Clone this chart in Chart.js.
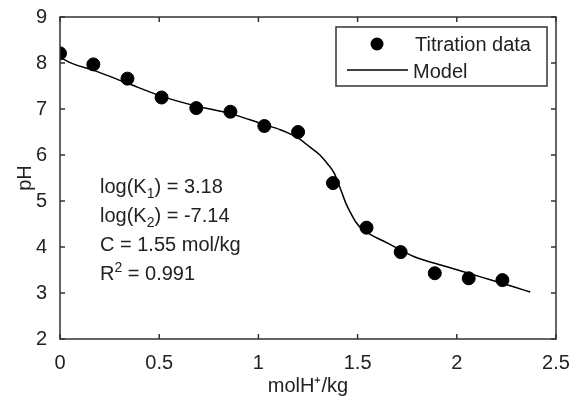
<!DOCTYPE html>
<html>
<head>
<meta charset="utf-8">
<script src="https://cdn.jsdelivr.net/npm/chart.js@4.4.0/dist/chart.umd.min.js"></script>
<style>
  html, body { margin: 0; padding: 0; background: #fff; }
</style>
</head>
<body>
<canvas id="titration" width="570" height="400"></canvas>
<script>
// measured titration points
var titrX  = [0, 0.168, 0.340, 0.512, 0.687, 0.859, 1.03, 1.20, 1.376, 1.545, 1.717, 1.889, 2.06, 2.23];
var titrPH = [8.21, 7.97, 7.66, 7.25, 7.02, 6.94, 6.63, 6.50, 5.39, 4.42, 3.89, 3.43, 3.32, 3.28];

// fitted model curve
var modelX  = [0, 0.04, 0.08, 0.17, 0.34, 0.51, 0.69, 0.86, 1.03, 1.11, 1.16, 1.21, 1.26, 1.31, 1.35, 1.38, 1.40, 1.42, 1.44, 1.465, 1.49, 1.525, 1.57, 1.63, 1.68, 1.78, 1.95, 2.12, 2.29, 2.37];
var modelPH = [8.13, 8.03, 7.96, 7.84, 7.56, 7.28, 7.06, 6.90, 6.66, 6.55, 6.46, 6.34, 6.17, 6.00, 5.80, 5.62, 5.42, 5.19, 4.96, 4.74, 4.55, 4.38, 4.26, 4.13, 4.02, 3.80, 3.57, 3.35, 3.13, 3.02];

var xTicks = [0, 0.5, 1, 1.5, 2, 2.5];
var yTicks = [2, 3, 4, 5, 6, 7, 8, 9];

var fitText = [
  {main: "log(K", sub: "1", rest: ") = 3.18"},
  {main: "log(K", sub: "2", rest: ") = -7.14"},
  {main: "C = 1.55 mol/kg"},
  {main: "R", sup: "2", rest: " = 0.991"}
];

function pts(xs, ys) {
  var out = [];
  for (var i = 0; i < xs.length; i++) out.push({x: xs[i], y: ys[i]});
  return out;
}

var FONT = "'Liberation Sans', Arial, sans-serif";
var INK = "#222";

// box, inner ticks, legend and fit text
var decor = {
  id: "decor",
  afterDraw: function(chart) {
    var ctx = chart.ctx, a = chart.chartArea;
    var xs = chart.scales.x, ys = chart.scales.y;
    ctx.save();
    ctx.strokeStyle = "#333";
    ctx.lineWidth = 1.5;
    ctx.strokeRect(a.left, a.top, a.right - a.left, a.bottom - a.top);
    ctx.beginPath();
    xTicks.forEach(function(v) {
      var px = xs.getPixelForValue(v);
      ctx.moveTo(px, a.bottom); ctx.lineTo(px, a.bottom - 5);
      ctx.moveTo(px, a.top); ctx.lineTo(px, a.top + 5);
    });
    yTicks.forEach(function(v) {
      var py = ys.getPixelForValue(v);
      ctx.moveTo(a.left, py); ctx.lineTo(a.left + 5, py);
      ctx.moveTo(a.right, py); ctx.lineTo(a.right - 5, py);
    });
    ctx.stroke();

    // legend
    var lx = 336, ly = 27, lw = 211, lh = 59;
    ctx.fillStyle = "#fff";
    ctx.fillRect(lx, ly, lw, lh);
    ctx.strokeRect(lx, ly, lw, lh);
    ctx.fillStyle = "#000";
    ctx.beginPath();
    ctx.arc(377, 44, 6.5, 0, Math.PI * 2);
    ctx.fill();
    ctx.strokeStyle = "#000";
    ctx.lineWidth = 1.5;
    ctx.beginPath();
    ctx.moveTo(347, 70); ctx.lineTo(408, 70);
    ctx.stroke();
    ctx.fillStyle = INK;
    ctx.font = "20px " + FONT;
    ctx.textBaseline = "alphabetic";
    ctx.textAlign = "left";
    ctx.fillText(chart.data.datasets[0].label, 415, 51);
    ctx.fillText(chart.data.datasets[1].label, 413, 78);

    // fit parameters
    var base = 193;
    fitText.forEach(function(t, i) {
      var x = 100, y = base + i * 29;
      ctx.font = "20px " + FONT;
      ctx.fillText(t.main, x, y);
      x += ctx.measureText(t.main).width;
      if (t.sub || t.sup) {
        ctx.font = "14px " + FONT;
        var s = t.sub || t.sup;
        ctx.fillText(s, x, t.sub ? y + 5 : y - 8);
        x += ctx.measureText(s).width;
      }
      if (t.rest) {
        ctx.font = "20px " + FONT;
        ctx.fillText(t.rest, x, y);
      }
    });
    ctx.restore();
  }
};

new Chart(document.getElementById("titration"), {
  type: "scatter",
  data: {
    datasets: [
      {
        label: "Titration data",
        data: pts(titrX, titrPH),
        backgroundColor: "#000",
        borderColor: "#000",
        pointRadius: 6.5,
        pointHoverRadius: 6.5,
        order: 1
      },
      {
        label: "Model",
        type: "line",
        data: pts(modelX, modelPH),
        borderColor: "#000",
        borderWidth: 1.5,
        pointRadius: 0,
        fill: false,
        cubicInterpolationMode: "monotone",
        order: 2
      }
    ]
  },
  options: {
    responsive: false,
    animation: false,
    layout: { padding: { top: 17, right: 14, left: 0, bottom: 0 } },
    plugins: { legend: { display: false }, tooltip: { enabled: false } },
    scales: {
      x: {
        type: "linear",
        min: 0, max: 2.5,
        afterBuildTicks: function(s) { s.ticks = xTicks.map(function(v) { return {value: v}; }); },
        afterFit: function(s) { s.height = 61; s.paddingRight = 0; },
        grid: { display: false },
        border: { display: false },
        ticks: { color: INK, font: { size: 20, family: FONT }, padding: 4, maxRotation: 0,
                 callback: function(v) { return String(v); } },
        title: { display: true, text: "molH\u207A/kg", color: INK, font: { size: 20, family: FONT }, padding: { top: 0, bottom: 2 } }
      },
      y: {
        min: 2, max: 9,
        afterBuildTicks: function(s) { s.ticks = yTicks.map(function(v) { return {value: v}; }); },
        afterFit: function(s) { s.width = 60; },
        grid: { display: false },
        border: { display: false },
        ticks: { color: INK, font: { size: 20, family: FONT }, padding: 5,
                 callback: function(v) { return String(v); } },
        title: { display: true, text: "pH", color: INK, font: { size: 20, family: FONT }, padding: { top: 13, bottom: 0 } }
      }
    }
  },
  plugins: [decor]
});
</script>
</body>
</html>
